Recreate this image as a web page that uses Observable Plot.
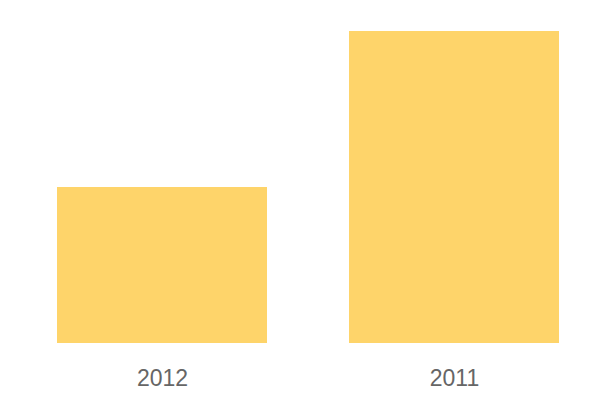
<!DOCTYPE html>
<html>
<head>
<meta charset="utf-8">
<script src="https://cdn.jsdelivr.net/npm/d3@7"></script>
<script src="https://cdn.jsdelivr.net/npm/@observablehq/plot@0.6"></script>
<style>
  html, body { margin: 0; padding: 0; background: #fff; }
  #chart svg { display: block; }
</style>
</head>
<body>
<div id="chart"></div>
<script>
const categories = ["2012", "2011"];
const values = [1, 2];

const data = categories.map((c, i) => ({category: c, value: values[i]}));

const chart = Plot.plot({
  width: 600,
  height: 400,
  marginLeft: 16,
  marginRight: 0,
  marginTop: 31,
  marginBottom: 57,
  style: {fontFamily: "'Liberation Sans', Arial, sans-serif", background: "#fff"},
  x: {domain: categories, paddingInner: 0.281, paddingOuter: 0.14, label: null},
  y: {domain: [0, 2], axis: null},
  marks: [
    Plot.barY(data, {x: "category", y: "value", fill: "#fed46a"}),
    Plot.axisX({tickSize: 0, tickPadding: 26, fontSize: 23, fill: "#666", label: null})
  ]
});
document.getElementById("chart").appendChild(chart);
</script>
</body>
</html>
